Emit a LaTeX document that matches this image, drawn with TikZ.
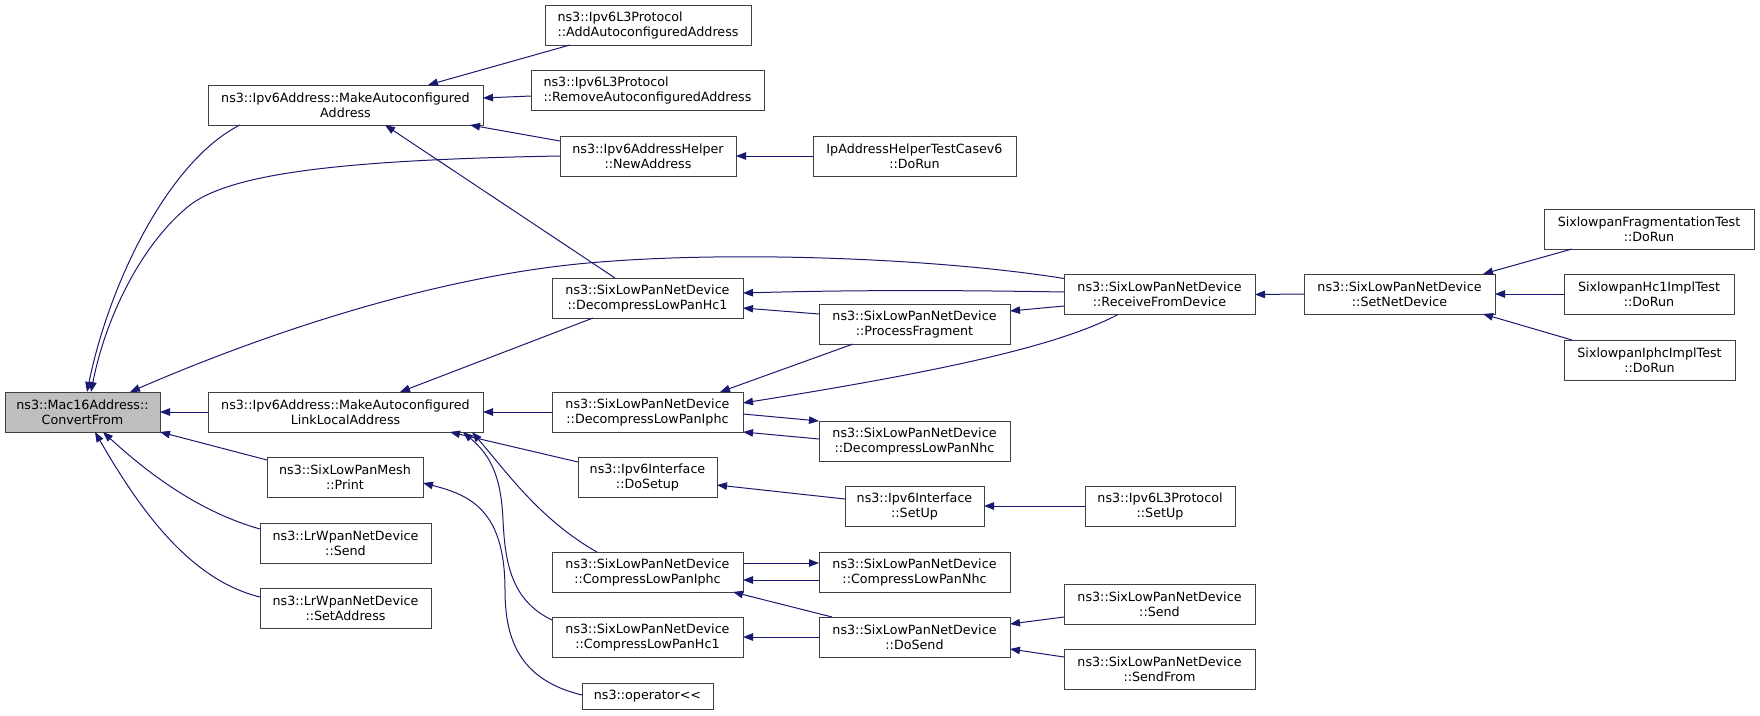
\documentclass[tikz,border=0pt]{standalone}
\usepackage{fontspec}
\setmainfont{DejaVu Sans}
\usetikzlibrary{arrows.meta,calc}
\definecolor{edgec}{RGB}{25,25,112}
\definecolor{macfill}{RGB}{191,191,191}
\begin{document}
\begin{tikzpicture}[x=1pt,y=-1pt,
  box/.style={draw=black!75, line width=1pt, fill=white, minimum height=40pt,
    inner sep=0pt, outer sep=0pt, align=center,
    font=\fontsize{12.7}{15}\selectfont},
  edge/.style={draw=edgec, line width=1pt, -{Triangle[length=10pt,width=7.5pt]}}]
\useasboundingbox (0,0) rectangle (1760,715);
% column 1
\node[box, minimum width=155pt, fill=macfill] (mac) at (82.5,412) {ns3::Mac16Address::\\ConvertFrom};
% column 2
\node[box, minimum width=275pt] (A1) at (345.5,105) {ns3::Ipv6Address::MakeAutoconfigured\\Address};
\node[box, minimum width=275pt] (LL) at (345.5,412) {ns3::Ipv6Address::MakeAutoconfigured\\LinkLocalAddress};
\node[box, minimum width=156pt] (print) at (345,477) {ns3::SixLowPanMesh\\::Print};
\node[box, minimum width=171pt] (lrsend) at (345.5,543) {ns3::LrWpanNetDevice\\::Send};
\node[box, minimum width=171pt] (lrset) at (345.5,608) {ns3::LrWpanNetDevice\\::SetAddress};
% column 3
\node[box, minimum width=206pt, align=left] (addauto) at (648,25) {ns3::Ipv6L3Protocol\\::AddAutoconfiguredAddress};
\node[box, minimum width=233pt, align=left] (remauto) at (647.5,90.5) {ns3::Ipv6L3Protocol\\::RemoveAutoconfiguredAddress};
\node[box, minimum width=176pt] (newaddr) at (648,156) {ns3::Ipv6AddressHelper\\::NewAddress};
\node[box, minimum width=191pt] (dhc1) at (647.5,298) {ns3::SixLowPanNetDevice\\::DecompressLowPanHc1};
\node[box, minimum width=191pt] (dIphc) at (647.5,412) {ns3::SixLowPanNetDevice\\::DecompressLowPanIphc};
\node[box, minimum width=139pt] (doSetup) at (647.5,477) {ns3::Ipv6Interface\\::DoSetup};
\node[box, minimum width=191pt] (cIphc) at (647.5,572) {ns3::SixLowPanNetDevice\\::CompressLowPanIphc};
\node[box, minimum width=191pt] (cHc1) at (647.5,637) {ns3::SixLowPanNetDevice\\::CompressLowPanHc1};
\node[box, minimum width=131pt, minimum height=26pt] (oper) at (647.5,696) {ns3::operator<\kern0pt<};
% column 4
\node[box, minimum width=203pt] (iptest) at (914.5,156) {IpAddressHelperTestCasev6\\::DoRun};
\node[box, minimum width=191pt] (procFrag) at (914.5,324) {ns3::SixLowPanNetDevice\\::ProcessFragment};
\node[box, minimum width=191pt] (dNhc) at (914.5,441) {ns3::SixLowPanNetDevice\\::DecompressLowPanNhc};
\node[box, minimum width=139pt] (ifSetUp) at (914.5,506) {ns3::Ipv6Interface\\::SetUp};
\node[box, minimum width=191pt] (cNhc) at (914.5,572) {ns3::SixLowPanNetDevice\\::CompressLowPanNhc};
\node[box, minimum width=191pt] (doSend) at (914.5,637) {ns3::SixLowPanNetDevice\\::DoSend};
% column 5
\node[box, minimum width=191pt] (recv) at (1159.5,294.5) {ns3::SixLowPanNetDevice\\::ReceiveFromDevice};
\node[box, minimum width=150pt] (l3setup) at (1160,506) {ns3::Ipv6L3Protocol\\::SetUp};
\node[box, minimum width=191pt] (send) at (1159.5,604) {ns3::SixLowPanNetDevice\\::Send};
\node[box, minimum width=191pt] (sendFrom) at (1159.5,669) {ns3::SixLowPanNetDevice\\::SendFrom};
% column 6
\node[box, minimum width=191pt] (setNet) at (1399.5,294) {ns3::SixLowPanNetDevice\\::SetNetDevice};
% column 7
\node[box, minimum width=210pt] (frag) at (1649,229) {SixlowpanFragmentationTest\\::DoRun};
\node[box, minimum width=170pt] (hc1) at (1649,294) {SixlowpanHc1ImplTest\\::DoRun};
\node[box, minimum width=171pt] (iphc) at (1649.5,360) {SixlowpanIphcImplTest\\::DoRun};
% edges into mac
\draw[edge] ($(A1.south west)+(32,0)$) .. controls (170,160) and (110,280) .. ($(mac.north west)+(82,0)$);
\draw[edge] (newaddr.west) .. controls (330,160) and (230,175) .. (190,205) .. controls (140,245) and (105,320) .. ($(mac.north west)+(86,0)$);
\draw[edge] ($(recv.north west)+(0,4)$) .. controls (950,260) and (750,250) .. (600,262) .. controls (430,275) and (250,340) .. ($(mac.north west)+(125,0)$);
\draw[edge] (LL.west) -- (mac.east);
\draw[edge] ($(print.north west)+(0,3)$) -- (mac.south east);
\draw[edge] ($(lrsend.north west)+(0,6)$) .. controls (200,512) and (150,475) .. ($(mac.south west)+(98,0)$);
\draw[edge] ($(lrset.north west)+(0,9)$) .. controls (190,580) and (140,510) .. ($(mac.south west)+(90,0)$);
% edges into A1
\draw[edge] ($(addauto.south west)+(25,0)$) -- ($(A1.north west)+(220,0)$);
\draw[edge] ($(remauto.north west)+(0,25.5)$) -- ($(A1.north east)+(0,13)$);
\draw[edge] ($(newaddr.north west)+(0,5)$) -- ($(A1.south west)+(262,0)$);
\draw[edge] ($(dhc1.north west)+(63,0)$) -- ($(A1.south west)+(177,0)$);
\draw[edge] (iptest.west) -- (newaddr.east);
% edges into dhc1
\draw[edge] ($(recv.north west)+(0,17.5)$) .. controls (950,290) and (850,290) .. ($(dhc1.north east)+(0,15)$);
\draw[edge] ($(procFrag.north west)+(0,10)$) -- ($(dhc1.north east)+(0,30)$);
\draw[edge] ($(recv.north west)+(0,31.5)$) -- ($(procFrag.north east)+(0,7)$);
% edges into LL
\draw[edge] ($(dhc1.south west)+(41,0)$) -- ($(LL.north west)+(192,0)$);
\draw[edge] (dIphc.west) -- (LL.east);
\draw[edge] ($(doSetup.north west)+(0,5)$) -- ($(LL.south west)+(242,0)$);
\draw[edge] ($(cIphc.north west)+(45,0)$) .. controls (540,520) and (505,470) .. ($(LL.south west)+(264,0)$);
\draw[edge] ($(cHc1.north west)+(0,3)$) .. controls (510,600) and (505,560) .. (503,520) .. controls (501,475) and (490,455) .. ($(LL.south west)+(255,0)$);
% operator<< into print
\draw[edge] ($(oper.north west)+(0,12)$) .. controls (520,680) and (505,640) .. (505,590) .. controls (505,510) and (470,495) .. ($(print.north east)+(0,26)$);
% edges into dIphc
\draw[edge] ($(recv.south west)+(54,0)$) .. controls (1060,345) and (950,370) .. ($(dIphc.north east)+(0,11)$);
\draw[edge] ($(procFrag.south west)+(34,0)$) -- ($(dIphc.north west)+(168,0)$);
\draw[edge] ($(dIphc.north east)+(0,22)$) -- (dNhc.north west);
\draw[edge] ($(dNhc.north west)+(0,18)$) -- (dIphc.south east);
% setup chain
\draw[edge] ($(ifSetUp.north west)+(0,13)$) -- ($(doSetup.north east)+(0,28)$);
\draw[edge] (l3setup.west) -- (ifSetUp.east);
% setNet
\draw[edge] (setNet.west) -- (recv.east);
\draw[edge] ($(frag.south west)+(28,0)$) -- ($(setNet.north east)+(-12,0)$);
\draw[edge] (hc1.west) -- (setNet.east);
\draw[edge] ($(iphc.north west)+(8,0)$) -- ($(setNet.south east)+(-12,0)$);
% compress
\draw[edge] ($(cIphc.north east)+(0,11)$) -- ($(cNhc.north west)+(0,11)$);
\draw[edge] ($(cNhc.north west)+(0,28)$) -- ($(cIphc.north east)+(0,28)$);
\draw[edge] ($(doSend.north west)+(13,0)$) -- ($(cIphc.south east)+(-10,0)$);
\draw[edge] (doSend.west) -- (cHc1.east);
\draw[edge] ($(send.north west)+(0,33)$) -- ($(doSend.north east)+(0,7)$);
\draw[edge] ($(sendFrom.north west)+(0,8)$) -- ($(doSend.north east)+(0,32)$);
\end{tikzpicture}
\end{document}
